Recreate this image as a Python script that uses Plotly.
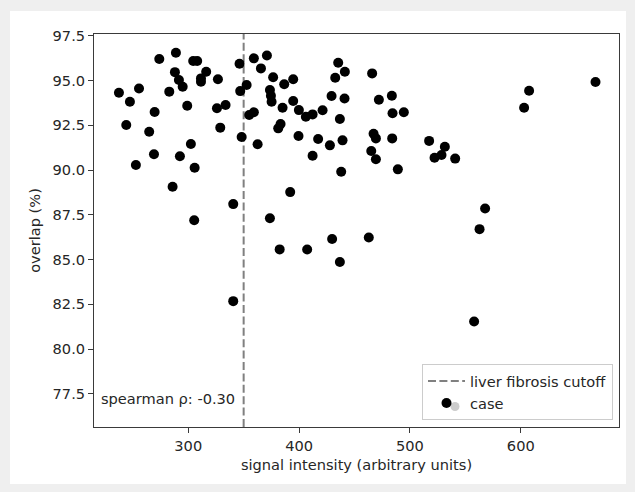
import plotly.graph_objects as go

# signal intensity (arbitrary units) and overlap (%) per case
signal = [237.5, 247.4, 255.6, 244.1, 269.7, 264.8, 252.8, 269.1, 273.9, 288.9,
          288.0, 291.6, 295.0, 282.9, 299.1, 304.5, 308.1, 316.2, 311.5, 311.5,
          326.8, 325.9, 333.7, 328.9, 292.5, 302.4, 305.8, 285.9, 346.3, 346.9,
          352.7, 348.2, 340.6, 359.2, 365.6, 371.0, 355.0, 359.2, 362.6, 305.4,
          373.7, 382.5, 340.6, 392.0, 376.6, 386.6, 394.7, 373.7, 374.6, 375.2,
          385.1, 394.7, 399.8, 406.1, 412.2, 421.2, 381.2, 383.3, 399.5, 417.2,
          427.8, 412.2, 436.8, 439.2, 438.0, 429.3, 441.0, 432.6, 441.3, 435.3,
          465.9, 472.0, 483.7, 484.3, 494.5, 467.2, 469.3, 484.0, 465.1, 469.3,
          489.1, 517.3, 522.2, 531.5, 528.5, 540.8, 603.0, 607.5, 667.4, 567.8,
          562.8, 557.9, 407.3, 429.8, 436.8, 462.9]
overlap = [94.32, 93.82, 94.56, 92.52, 93.24, 92.14, 90.28, 90.88, 96.20, 96.55,
           95.47, 95.03, 94.65, 94.38, 93.59, 96.09, 96.09, 95.49, 95.12, 94.93,
           95.07, 93.45, 93.63, 92.37, 90.77, 91.46, 90.13, 89.07, 95.94, 94.41,
           94.75, 91.85, 88.10, 96.24, 95.68, 96.40, 93.08, 93.23, 91.44, 87.20,
           87.31, 85.57, 82.68, 88.77, 95.18, 94.79, 95.07, 94.47, 94.15, 93.82,
           93.48, 93.86, 93.35, 92.98, 93.11, 93.34, 92.33, 92.57, 91.90, 91.74,
           91.38, 90.80, 92.85, 91.66, 89.91, 94.14, 94.00, 95.16, 95.49, 95.99,
           95.40, 93.93, 94.15, 93.17, 93.23, 92.03, 91.77, 91.77, 91.07, 90.60,
           90.04, 91.63, 90.69, 91.30, 90.84, 90.64, 93.48, 94.43, 94.92, 87.85,
           86.70, 81.54, 85.56, 86.15, 84.87, 86.23]

cutoff = 350
x_range = [215.0, 688.6]
y_range = [75.65, 97.6]
x_ticks = [300, 400, 500, 600]
y_ticks = [77.5, 80.0, 82.5, 85.0, 87.5, 90.0, 92.5, 95.0, 97.5]
spearman_text = "spearman ρ: -0.30"

FONT = "DejaVu Sans"
FS = 14.6
TXT = "#262626"
SPINE = "#3a3a3a"
W, H = 635, 492
L, R, T, B = 94, 16, 34, 65
pw, ph = W - L - R, H - T - B

def px(xpix):
    return (xpix - L) / pw

def py(ypix):
    return (H - B - ypix) / ph

fig = go.Figure()
fig.add_trace(go.Scatter(
    x=[cutoff, cutoff], y=y_range, mode="lines",
    line=dict(color="#808080", width=2, dash="8px,3.4px"),
    name="liver fibrosis cutoff"))
fig.add_trace(go.Scatter(
    x=signal, y=overlap, mode="markers",
    marker=dict(color="black", size=10, line=dict(width=0)),
    name="case"))

shapes = [
    dict(type="rect", xref="paper", yref="paper", layer="below",
         x0=px(10), x1=px(626), y0=py(484), y1=py(11),
         fillcolor="white", line=dict(width=0)),
    dict(type="circle", xref="paper", yref="paper", layer="above",
         x0=px(455 - 4.5), x1=px(455 + 4.5), y0=py(406.5 + 4.5), y1=py(406.5 - 4.5),
         fillcolor="#cccccc", line=dict(width=0)),
]

fig.update_layout(
    width=W, height=H,
    margin=dict(l=L, r=R, t=T, b=B, pad=0),
    paper_bgcolor="#efefef", plot_bgcolor="white",
    font=dict(family=FONT, size=FS, color=TXT),
    showlegend=True,
    legend=dict(x=px(613), y=py(420), xanchor="right", yanchor="bottom",
                bgcolor="rgba(255,255,255,0)", bordercolor="#cccccc", borderwidth=1,
                font=dict(family=FONT, size=FS, color=TXT),
                itemwidth=37, tracegroupgap=0),
    shapes=shapes,
    annotations=[dict(text=spearman_text, xref="paper", yref="paper",
                      x=px(99), y=py(398), xanchor="left", yanchor="middle",
                      showarrow=False, font=dict(family=FONT, size=FS, color=TXT))],
    xaxis=dict(range=x_range, tickvals=x_ticks, ticks="outside", ticklen=5, tickwidth=1,
               tickcolor=SPINE, showline=True, linecolor=SPINE, linewidth=1,
               mirror=True, showgrid=False, zeroline=False,
               tickfont=dict(family=FONT, size=FS, color=TXT),
               title=dict(text="signal intensity (arbitrary units)", standoff=7,
                          font=dict(family=FONT, size=FS, color=TXT))),
    yaxis=dict(range=y_range, tickvals=y_ticks, tickformat=".1f", ticks="outside", ticklen=5,
               tickwidth=1, tickcolor=SPINE, showline=True, linecolor=SPINE,
               linewidth=1, mirror=True, showgrid=False, zeroline=False,
               tickfont=dict(family=FONT, size=FS, color=TXT),
               title=dict(text="overlap (%)", standoff=8,
                          font=dict(family=FONT, size=FS, color=TXT))),
)

fig.write_html(
    "out.html",
    config={"displayModeBar": False},
    post_script="document.documentElement.style.background='#efefef';"
                "document.body.style.margin='0';document.body.style.background='#efefef';")
